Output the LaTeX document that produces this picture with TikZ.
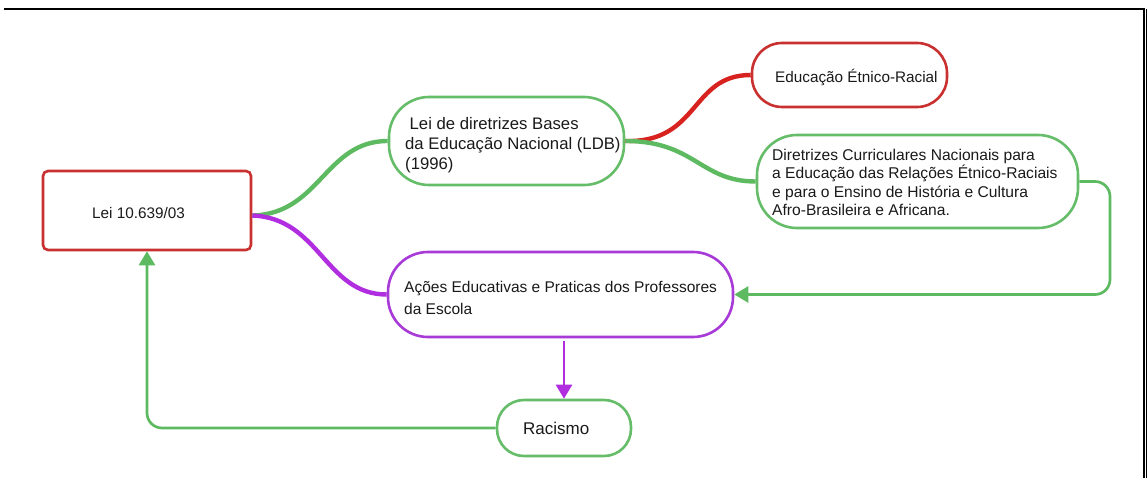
\documentclass[tikz,border=0pt]{standalone}
\usepackage{fontspec}
\setmainfont{Liberation Sans}
\usetikzlibrary{arrows.meta}
\definecolor{gnode}{HTML}{66BD69}
\definecolor{gline}{HTML}{5DBA60}
\definecolor{rnode}{HTML}{C93030}
\definecolor{rline}{HTML}{D8221F}
\definecolor{pnode}{HTML}{A83AD8}
\definecolor{pline}{HTML}{B02DE0}
\definecolor{txt}{HTML}{1A1A1A}
\definecolor{ybar}{HTML}{F2E600}
\begin{document}
\begin{tikzpicture}[x=1pt,y=-1pt,
  box/.style={draw, line width=2.6pt, fill=white, inner sep=0pt},
  lbl/.style={inner sep=0pt, anchor=west, align=left, text=txt, font=\fontsize{15.6}{18.6}\selectfont},
  curve/.style={line width=4.4pt},
  tip/.style={-{Triangle[width=16pt,length=14pt]}},
  link/.style={line width=2.7pt, rounded corners=15pt}]
\useasboundingbox (0,0) rectangle (1147,478);
% frame
\draw[line width=1.5pt] (4,9) -- (1144,9) -- (1144,478);
\draw[ybar, line width=1.2pt] (1146.4,9) -- (1146.4,478);
% boxes
\node[box, draw=rnode, rounded corners=5pt, minimum width=208pt, minimum height=79pt] (lei) at (147,210.5) {};
\node[box, draw=gnode, rounded corners=40pt, minimum width=235pt, minimum height=88pt] (ldb) at (506.5,141) {};
\node[box, draw=rnode, rounded corners=30pt, minimum width=195pt, minimum height=64pt] (edu) at (849.5,75) {};
\node[box, draw=gnode, rounded corners=40pt, minimum width=321pt, minimum height=93pt] (dir) at (917.5,181.5) {};
\node[box, draw=pnode, rounded corners=40pt, minimum width=345pt, minimum height=85pt] (acoes) at (560.5,294.5) {};
\node[box, draw=gnode, rounded corners=27pt, minimum width=134pt, minimum height=56pt] (rac) at (564,428) {};
% texts
\node[lbl, font=\fontsize{15.3}{18.5}\selectfont] (leit) at (92,213) {Lei 10.639/03};
\node[lbl, font=\fontsize{16.7}{20}\selectfont] (ldbt) at (405,145) {\hspace{4.5pt}Lei de diretrizes Bases\\da Educação Nacional (LDB)\\(1996)};
\node[lbl, font=\fontsize{15.3}{18.5}\selectfont] (edut) at (775,77) {Educação Étnico-Racial};
\node[lbl] (dirt) at (772,182.5) {Diretrizes Curriculares Nacionais para\\a Educação das Relações Étnico-Raciais\\e para o Ensino de História e Cultura\\Afro-Brasileira e Africana.};
\node[lbl, font=\fontsize{15.5}{21.5}\selectfont] (acoest) at (404,298) {Ações Educativas e Praticas dos Professores\\da Escola};
\node[lbl, font=\fontsize{17}{20}\selectfont] (ract) at (523,428) {Racismo};
% coordinates
\coordinate (leiout) at ([yshift=-5pt]lei.east);
\coordinate (rturn) at (1110,240);
% curves
\draw[curve, gline] (leiout) .. controls (320,214) and (325,141) .. (ldb.west);
\draw[curve, pline] (leiout) .. controls (320,218) and (325,294.5) .. (acoes.west);
\draw[curve, rline] (ldb.east) .. controls (700,143) and (690,75) .. (edu.west);
\draw[curve, gline] (ldb.east) .. controls (695,141) and (700,181.5) .. (dir.west);
% straight connectors
\draw[link, gline, tip] (dir.east) -| (rturn) |- (acoes.east);
\draw[link, pline, tip, rounded corners=0pt] ([yshift=-3pt]acoes.south -| rac.north) -- (rac.north);
\draw[link, gline, tip] (rac.west) -| (lei.south);
\end{tikzpicture}
\end{document}
